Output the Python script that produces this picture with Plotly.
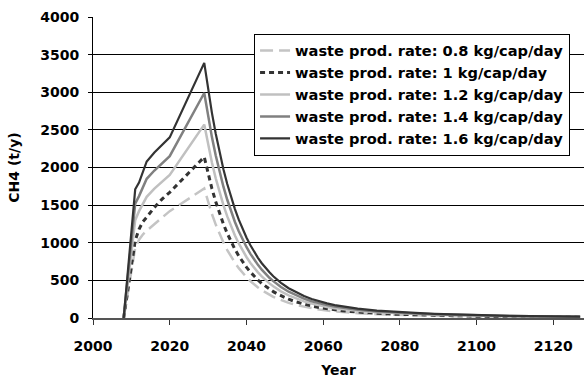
import plotly.graph_objects as go

# Landfill methane generation (t/y) for five waste production rates
years = [2008, 2011, 2012, 2013, 2014, 2016, 2018, 2020, 2029,
         2030, 2031, 2032, 2033, 2034, 2035, 2036, 2037, 2038, 2039,
         2040, 2041, 2042, 2043, 2044, 2045, 2046, 2047, 2048, 2049,
         2051, 2053, 2055, 2057, 2059, 2061, 2063, 2065, 2067, 2069,
         2074, 2079, 2084, 2089, 2094, 2099, 2104, 2109, 2114, 2119, 2124, 2127]

ch4_rate_08 = [0, 930, 1040, 1110, 1160, 1250, 1340, 1420, 1720,
               1541, 1382, 1241, 1115, 1003, 903, 814, 734, 663, 599,
               542, 492, 446, 406, 369, 337, 308, 281, 258, 237,
               201, 171, 148, 128, 112, 98, 87, 78, 70, 63,
               50, 41, 34, 28, 24, 20, 17, 15, 13, 11, 10, 9]

ch4_rate_10 = [0, 1030, 1180, 1280, 1340, 1470, 1580, 1670, 2140,
               1918, 1720, 1545, 1388, 1248, 1124, 1013, 913, 825, 746,
               675, 612, 555, 505, 459, 419, 383, 350, 321, 295,
               250, 213, 184, 159, 139, 122, 109, 97, 87, 79,
               62, 50, 42, 35, 30, 25, 21, 18, 16, 14, 12, 11]

ch4_rate_12 = [0, 1300, 1420, 1520, 1610, 1720, 1810, 1900, 2570,
               2304, 2066, 1856, 1668, 1499, 1350, 1217, 1097, 991, 896,
               811, 735, 667, 606, 552, 503, 460, 421, 385, 354,
               300, 256, 221, 191, 167, 147, 130, 117, 105, 95,
               75, 61, 51, 42, 36, 30, 26, 22, 19, 17, 14, 13]

ch4_rate_14 = [0, 1520, 1620, 1740, 1850, 1960, 2060, 2150, 2990,
               2680, 2404, 2159, 1940, 1745, 1571, 1416, 1276, 1153, 1043,
               944, 856, 776, 706, 642, 586, 535, 490, 448, 412,
               349, 298, 257, 222, 194, 171, 152, 136, 122, 110,
               87, 71, 59, 49, 41, 35, 30, 26, 22, 19, 17, 15]

ch4_rate_16 = [0, 1710, 1800, 1930, 2080, 2200, 2300, 2400, 3390,
               3039, 2726, 2448, 2200, 1978, 1781, 1605, 1447, 1307, 1182,
               1070, 970, 880, 800, 728, 664, 607, 555, 508, 467,
               396, 338, 291, 252, 220, 194, 172, 154, 138, 125,
               99, 80, 67, 56, 47, 40, 34, 29, 25, 22, 19, 17]

series_names = [
    "waste prod. rate: 0.8 kg/cap/day",
    "waste prod. rate: 1 kg/cap/day",
    "waste prod. rate: 1.2 kg/cap/day",
    "waste prod. rate: 1.4 kg/cap/day",
    "waste prod. rate: 1.6 kg/cap/day",
]
series_values = [ch4_rate_08, ch4_rate_10, ch4_rate_12, ch4_rate_14, ch4_rate_16]
line_styles = [
    dict(color="#c4c4c4", width=2.5, dash="13px,6px"),
    dict(color="#333333", width=3, dash="5px,4px"),
    dict(color="#c0c0c0", width=2.5),
    dict(color="#808080", width=2.5),
    dict(color="#333333", width=2.2),
]

FONT = "DejaVu Sans"

fig = go.Figure()
for name, vals, style in zip(series_names, series_values, line_styles):
    fig.add_trace(go.Scatter(x=years, y=vals, mode="lines", name=name, line=style))

fig.update_layout(
    width=587,
    height=380,
    margin=dict(l=93, r=3, t=17, b=62),
    paper_bgcolor="white",
    plot_bgcolor="white",
    font=dict(family=FONT, size=14, color="black", weight="bold"),
    showlegend=True,
    legend=dict(
        x=0.328, y=0.945, xanchor="left", yanchor="top",
        bgcolor="white", bordercolor="black", borderwidth=1,
        font=dict(family=FONT, size=14.6, color="black", weight="bold"),
        tracegroupgap=0,
    ),
    xaxis=dict(
        range=[2000, 2128],
        tick0=2000, dtick=20,
        showgrid=False, zeroline=False,
        showline=True, linecolor="#555555", linewidth=2,
        ticks="outside", ticklen=5, tickcolor="#333333", tickwidth=1,
        ticklabelstandoff=9,
        title=dict(text="Year", standoff=12,
                   font=dict(family=FONT, size=14, color="black", weight="bold")),
    ),
    yaxis=dict(
        range=[0, 4000],
        tick0=0, dtick=500,
        showgrid=True, gridcolor="black", gridwidth=1,
        zeroline=False,
        showline=True, linecolor="black", linewidth=1,
        ticks="outside", ticklen=4, tickcolor="black", tickwidth=1,
        ticklabelstandoff=6,
        title=dict(text="CH4 (t/y)", standoff=17,
                   font=dict(family=FONT, size=14, color="black", weight="bold")),
    ),
)

fig.write_html("out.html")
